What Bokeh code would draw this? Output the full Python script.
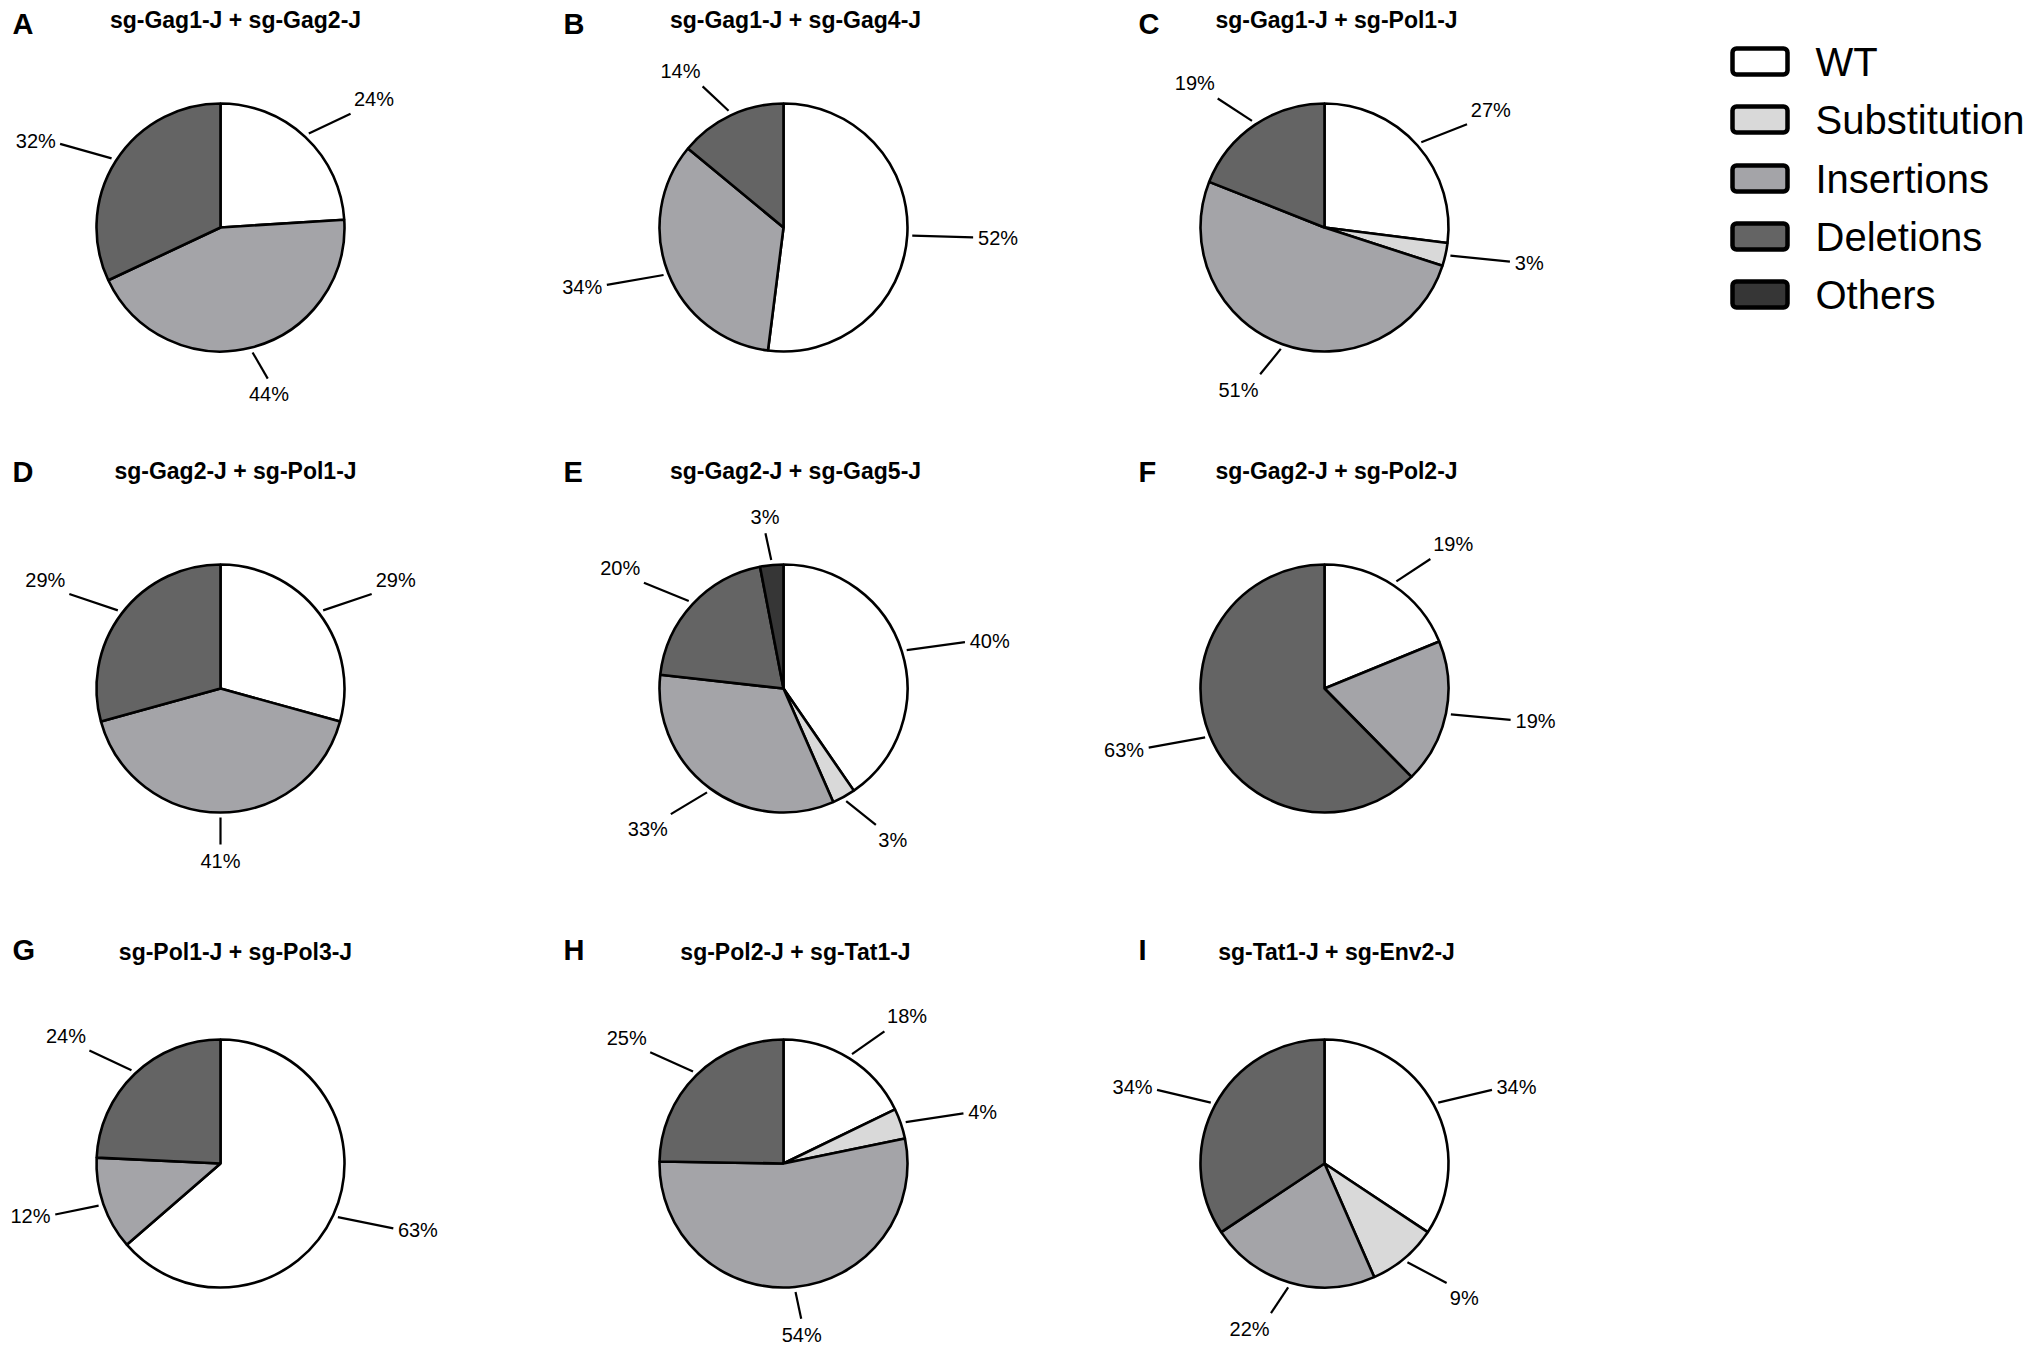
import math
from bokeh.plotting import figure
from bokeh.models import Range1d, ColumnDataSource
from bokeh.embed import file_html
from bokeh.resources import INLINE
from bokeh.core.properties import value

# ---------------- data ----------------
categories = ["WT", "Substitution", "Insertions", "Deletions", "Others"]
panel_letters = ["A", "B", "C", "D", "E", "F", "G", "H", "I"]
panel_titles = [
    "sg-Gag1-J + sg-Gag2-J", "sg-Gag1-J + sg-Gag4-J", "sg-Gag1-J + sg-Pol1-J",
    "sg-Gag2-J + sg-Pol1-J", "sg-Gag2-J + sg-Gag5-J", "sg-Gag2-J + sg-Pol2-J",
    "sg-Pol1-J + sg-Pol3-J", "sg-Pol2-J + sg-Tat1-J", "sg-Tat1-J + sg-Env2-J",
]
wt           = [24, 52, 27, 29, 40, 19, 63, 18, 34]
substitution = [0,  0,  3,  0,  3,  0,  0,  4,  9]
insertions   = [44, 34, 51, 41, 33, 19, 12, 54, 22]
deletions    = [32, 14, 19, 29, 20, 63, 24, 25, 34]
others       = [0,  0,  0,  0,  3,  0,  0,  0,  0]

# ---------------- style / layout ----------------
colors = ["#ffffff", "#d9d9d9", "#a4a4a8", "#646464", "#363636"]
FONT = "Liberation Sans"
W, H = 2033, 1362
col_cx = [220, 783, 1324]      # pie centre x per column (page px)
row_cy = [227, 688, 1163]      # pie centre y per row (page px)
title_cx = [235, 795, 1336]
title_cy = [19, 470, 951]
letter_x = [12, 563, 1138]
letter_cy = [23, 471, 949]
R = 124
PCT_SIZE = 20

def Y(y):  # page pixel y -> data y
    return H - y

p = figure(width=W, height=H, x_range=Range1d(0, W), y_range=Range1d(0, H),
           output_backend="svg", toolbar_location=None,
           x_axis_location=None, y_axis_location=None, min_border=0)
p.grid.visible = False
p.outline_line_color = None
p.background_fill_color = "white"

series = [wt, substitution, insertions, deletions, others]

wx, wy, wsa, wea, wc = [], [], [], [], []
sx0, sy0, sx1, sy1 = [], [], [], []
tx, ty, tt, ta, tb = [], [], [], [], []

for k in range(9):
    cx = col_cx[k % 3]
    cy = Y(row_cy[k // 3])
    vals = [s[k] for s in series]
    tot = float(sum(vals))
    c0 = 0.0
    for j, v in enumerate(vals):
        if v <= 0:
            continue
        c1 = c0 + v / tot
        wx.append(cx); wy.append(cy)
        wsa.append(math.pi / 2 - 2 * math.pi * c1)
        wea.append(math.pi / 2 - 2 * math.pi * c0)
        wc.append(colors[j])
        th = 2 * math.pi * (c0 + c1) / 2
        dx, dy = math.sin(th), math.cos(th)
        label = "%d%%" % v
        tw = PCT_SIZE * (0.556 * (len(label) - 1) + 0.889)
        x0, y0 = cx + dx * (R + 5), cy + dy * (R + 5)
        ex, ey = cx + dx * (R + 66), cy + dy * (R + 32)
        lx, ly = ex + dx * 5, ey + dy * 5
        al = "left" if dx > 0.25 else ("right" if dx < -0.25 else "center")
        bl = "bottom" if dy > 0.6 else ("top" if dy < -0.6 else "middle")
        # keep the label inside the page
        if al == "right" and lx - tw < 10:
            sh = 10 - (lx - tw)
            lx += sh; ex += sh
        if bl == "top" and ly - PCT_SIZE < 8:
            sh = 8 - (ly - PCT_SIZE)
            ly += sh; ey += sh
        sx0.append(x0); sy0.append(y0); sx1.append(ex); sy1.append(ey)
        tx.append(lx); ty.append(ly); tt.append(label); ta.append(al); tb.append(bl)
        c0 = c1

p.wedge(x="x", y="y", radius=R, start_angle="sa", end_angle="ea", direction="anticlock",
        fill_color="c", line_color="black", line_width=2.6,
        source=ColumnDataSource(dict(x=wx, y=wy, sa=wsa, ea=wea, c=wc)))
p.segment(x0=sx0, y0=sy0, x1=sx1, y1=sy1, line_color="black", line_width=2.2)
p.text(x="x", y="y", text="t", text_align="al", text_baseline="bl",
       text_font=value(FONT), text_font_size=value("%dpx" % PCT_SIZE), text_color="black",
       source=ColumnDataSource(dict(x=tx, y=ty, t=tt, al=ta, bl=tb)))

# titles and panel letters
p.text(x=[title_cx[k % 3] for k in range(9)], y=[Y(title_cy[k // 3]) for k in range(9)],
       text=panel_titles, text_align="center", text_baseline="middle",
       text_font=value(FONT), text_font_style="bold", text_font_size=value("23px"),
       text_color="black")
p.text(x=[letter_x[k % 3] for k in range(9)], y=[Y(letter_cy[k // 3]) for k in range(9)],
       text=panel_letters, text_align="left", text_baseline="middle",
       text_font=value(FONT), text_font_style="bold", text_font_size=value("29px"),
       text_color="black")

# legend
leg_y = [61, 119, 178, 236, 294]
p.quad(left=[1732] * 5, right=[1787] * 5,
       top=[Y(y - 13) for y in leg_y], bottom=[Y(y + 13) for y in leg_y],
       fill_color=colors, line_color="black", line_width=4.5, border_radius=4)
p.text(x=[1815] * 5, y=[Y(y) for y in leg_y], text=categories,
       text_align="left", text_baseline="middle",
       text_font=value(FONT), text_font_size=value("40px"), text_color="black")

open("out.html", "w").write(file_html(p, INLINE))
